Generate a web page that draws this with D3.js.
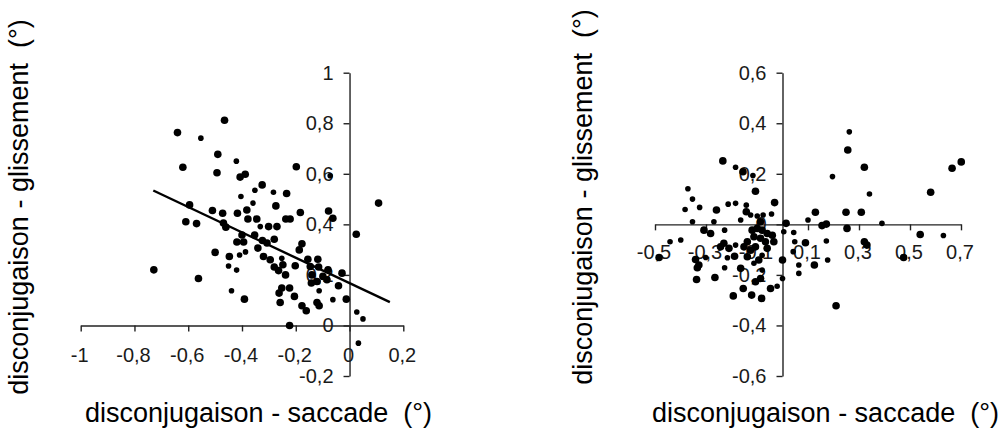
<!DOCTYPE html>
<html>
<head>
<meta charset="utf-8">
<script src="https://cdn.jsdelivr.net/npm/d3@7/dist/d3.min.js"></script>
<style>
  html, body { margin: 0; padding: 0; background: #fff; }
  svg { display: block; }
  .tick text { font-family: "Liberation Sans", Arial, sans-serif; font-size: 20px; fill: #1a1a1a; }
  .title { font-family: "Liberation Sans", Arial, sans-serif; font-size: 27px; fill: #000; white-space: pre; }
</style>
</head>
<body>
<svg id="chart" width="999" height="434"></svg>
<script>
// ---------- DATA ----------
// Left panel: disconjugaison saccade (x) vs glissement (y)
const leftLargeDots = [
  [-0.465,0.812],[-0.640,0.763],[-0.490,0.677],[-0.620,0.626],[-0.493,0.604],[-0.407,0.587],[-0.388,0.598],
  [-0.198,0.628],[-0.325,0.556],[-0.234,0.522],[-0.595,0.477],[-0.510,0.455],[-0.472,0.444],[-0.417,0.444],
  [-0.382,0.457],[-0.609,0.410],[-0.569,0.403],[-0.469,0.405],[-0.460,0.389],[-0.378,0.421],[-0.345,0.421],
  [-0.400,0.358],[-0.353,0.358],[-0.419,0.330],[-0.394,0.330],[-0.341,0.306],[-0.500,0.289],[-0.447,0.273],
  [-0.728,0.220],[-0.562,0.186],[-0.391,0.104],[-0.274,0.473],[-0.183,0.447],[-0.078,0.453],[-0.062,0.424],
  [0.108,0.484],[-0.237,0.421],[-0.221,0.421],[-0.301,0.391],[-0.270,0.391],[0.025,0.361],[-0.324,0.336],
  [-0.307,0.326],[-0.280,0.341],[-0.177,0.323],[-0.187,0.299],[-0.320,0.273],[-0.295,0.260],[-0.280,0.231],
  [-0.264,0.217],[-0.248,0.240],[-0.238,0.200],[-0.202,0.236],[-0.155,0.262],[-0.118,0.262],[-0.146,0.233],
  [-0.115,0.231],[-0.080,0.220],[-0.028,0.207],[-0.140,0.200],[-0.099,0.194],[-0.084,0.181],[-0.142,0.168],
  [-0.121,0.174],[-0.041,0.157],[-0.262,0.128],[-0.223,0.148],[-0.252,0.148],[-0.205,0.115],[-0.258,0.091],
  [-0.121,0.091],[-0.113,0.078],[-0.177,0.078],[-0.161,0.058],[-0.012,0.104],[-0.223,0.000]
];
const leftSmallDots = [
  [-0.553,0.741],[-0.421,0.650],[-0.352,0.535],[-0.404,0.510],[-0.072,0.592],[-0.283,0.527],[-0.359,0.484],
  [-0.409,0.279],[-0.387,0.291],[-0.450,0.235],[-0.420,0.219],[-0.439,0.137],[-0.332,0.391],[-0.252,0.266],
  [-0.113,0.137],[-0.062,0.102],[0.027,0.053],[0.050,0.026],[0.033,-0.070]
];
const leftTrend = [[-0.73,0.534],[0.15,0.092]];
const leftXTicks = [-1,-0.8,-0.6,-0.4,-0.2,0,0.2];
const leftYTicks = [-0.2,0,0.2,0.4,0.6,0.8,1];

// Right panel
const rightLargeDots = [
  [-0.234,0.251],[-0.155,0.208],[-0.106,0.131],[0.256,0.294],[0.321,0.226],[0.581,0.127],[0.665,0.222],
  [0.701,0.247],[-0.031,0.086],[-0.259,0.057],[-0.142,0.050],[-0.086,0.010],[-0.308,-0.023],[-0.282,-0.036],
  [-0.230,-0.075],[-0.243,-0.089],[-0.210,-0.095],[-0.188,-0.126],[-0.341,-0.139],[-0.328,-0.161],
  [-0.334,-0.172],[-0.337,-0.218],[-0.265,-0.210],[-0.484,-0.131],[-0.119,-0.023],[-0.099,-0.016],
  [-0.080,-0.023],[-0.060,-0.036],[-0.040,-0.043],[-0.112,-0.049],[-0.086,-0.055],[-0.067,-0.069],
  [-0.138,-0.069],[-0.151,-0.089],[-0.125,-0.102],[-0.106,-0.089],[-0.060,-0.095],[-0.034,-0.069],
  [-0.138,-0.128],[-0.093,-0.141],[-0.164,-0.174],[-0.086,-0.214],[-0.106,-0.227],[-0.047,-0.254],
  [-0.154,-0.254],[-0.193,-0.283],[-0.121,-0.280],[-0.082,-0.293],[0.129,0.048],[0.249,0.048],[0.309,0.048],
  [0.014,0.004],[0.155,-0.005],[0.172,0.001],[0.253,-0.016],[0.540,-0.040],[0.090,-0.073],[0.321,-0.069],
  [0.331,-0.082],[0.475,-0.131],[0.125,-0.161],[0.000,-0.141],[0.210,-0.322]
];
const rightSmallDots = [
  [-0.184,0.226],[-0.116,0.193],[-0.371,0.141],[-0.353,0.100],[0.262,0.366],[0.196,0.189],[0.341,0.120],
  [-0.382,0.059],[-0.325,0.067],[-0.213,0.080],[-0.184,0.083],[-0.142,0.076],[-0.125,0.037],[-0.099,0.033],
  [-0.076,0.037],[-0.043,0.041],[-0.353,0.010],[-0.269,0.010],[-0.164,0.017],[-0.227,-0.023],[-0.184,-0.082],
  [-0.216,-0.132],[-0.227,-0.172],[-0.301,-0.131],[-0.399,-0.062],[-0.441,-0.069],[-0.080,-0.122],
  [-0.112,-0.154],[-0.080,-0.181],[-0.021,-0.245],[0.100,0.017],[0.390,0.004],[0.631,-0.044],[0.005,-0.029],
  [0.044,-0.032],[0.048,-0.069],[0.172,-0.066],[0.042,-0.108],[0.177,-0.141],[0.064,-0.161],[0.064,-0.194],
  [0.000,-0.214]
];
const rightXTicks = [-0.5,-0.3,-0.1,0.1,0.3,0.5,0.7];
const rightYTicks = [-0.6,-0.4,-0.2,0,0.2,0.4,0.6];

const xTitle = "disconjugaison - saccade  (°)";
const yTitle = "disconjugaison - glissement  (°)";

// ---------- DRAW ----------
const svg = d3.select("#chart");
const loc = d3.formatLocale({decimal: ",", thousands: " ", grouping: [3], currency: ["", ""], minus: "-"});
const fmt = loc.format(".1~f");

function panel(cfg) {
  const x = d3.scaleLinear().domain(cfg.xDomain).range(cfg.xRange);
  const y = d3.scaleLinear().domain(cfg.yDomain).range(cfg.yRange);
  const g = svg.append("g");

  const xAxis = g.append("g")
    .attr("transform", `translate(0,${y(0)})`)
    .call(d3.axisBottom(x).tickValues(cfg.xTicks).tickFormat(fmt).tickSize(6).tickSizeOuter(0).tickPadding(cfg.xPad));
  xAxis.selectAll("text").attr("dx", -1.5);
  const yAxis = g.append("g")
    .attr("transform", `translate(${x(0)},0)`)
    .call(d3.axisLeft(y).tickValues(cfg.yTicks).tickFormat(fmt).tickSize(6).tickSizeOuter(0).tickPadding(10));
  [xAxis, yAxis].forEach(a => {
    a.select(".domain").attr("stroke", "#222").attr("stroke-width", 1.4);
    a.selectAll(".tick line").attr("stroke", "#222").attr("stroke-width", 1.4);
    a.attr("font-family", null).attr("font-size", null);
  });

  g.append("g").selectAll("circle").data(cfg.big).join("circle")
    .attr("cx", d => x(d[0])).attr("cy", d => y(d[1])).attr("r", 3.8).attr("fill", "#000");
  g.append("g").selectAll("circle").data(cfg.small).join("circle")
    .attr("cx", d => x(d[0])).attr("cy", d => y(d[1])).attr("r", 2.8).attr("fill", "#000");

  if (cfg.trend) {
    g.append("path")
      .attr("d", d3.line().x(d => x(d[0])).y(d => y(d[1]))(cfg.trend))
      .attr("stroke", "#000").attr("stroke-width", 2.4).attr("fill", "none");
  }

  g.append("text").attr("class", "title")
    .attr("x", cfg.xTitlePos[0]).attr("y", cfg.xTitlePos[1])
    .text(xTitle);
  g.append("text").attr("class", "title")
    .attr("text-anchor", "middle")
    .attr("transform", `translate(${cfg.yTitlePos[0]},${cfg.yTitlePos[1]}) rotate(-90)`)
    .text(yTitle);
}

panel({
  xDomain: [-1, 0.2], xRange: [80.7, 403.3],
  yDomain: [-0.2, 1], yRange: [376, 72.7],
  xTicks: leftXTicks, yTicks: leftYTicks, xPad: 16,
  big: leftLargeDots, small: leftSmallDots, trend: leftTrend,
  xTitlePos: [85, 422], yTitlePos: [28, 207]
});
panel({
  xDomain: [-0.5, 0.7], xRange: [655, 961],
  yDomain: [-0.6, 0.6], yRange: [376, 72.7],
  xTicks: rightXTicks, yTicks: rightYTicks, xPad: 14.5,
  big: rightLargeDots, small: rightSmallDots, trend: null,
  xTitlePos: [652, 422], yTitlePos: [592, 197]
});
</script>
</body>
</html>
